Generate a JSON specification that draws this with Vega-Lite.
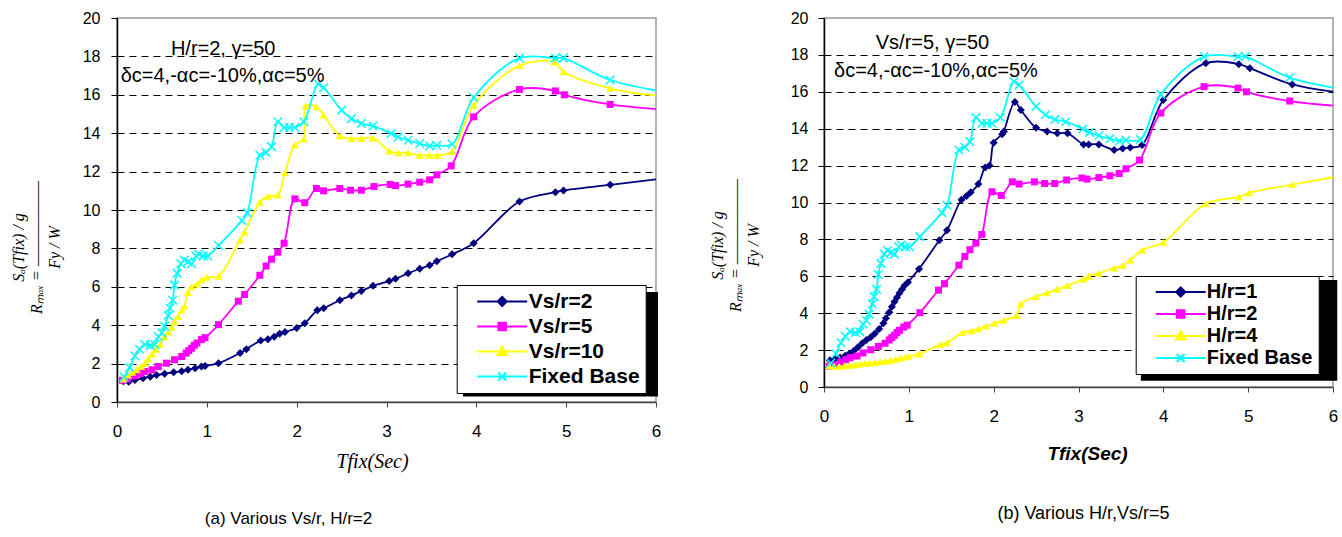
{
"$schema": "https://vega.github.io/schema/vega-lite/v6.json",
"background": "white",
"padding": {"left": 9, "top": 9, "right": 0, "bottom": 0},
"config": {
  "font": "Liberation Sans",
  "view": {"stroke": "#999999", "strokeWidth": 1.5},
  "axis": {"labelColor": "black", "titleColor": "black", "labelFont": "Liberation Sans"}
},
"datasets": {
"box": [{"item": "legend shadow"}],
"tL1": [{"note": "H/r=2, γ=50"}],
"tL2": [{"note": "δc=4,-αc=-10%,αc=5%"}],
"tR1": [{"note": "Vs/r=5, γ=50"}],
"tR2": [{"note": "δc=4,-αc=-10%,αc=5%"}],
"kL": [{"s":"Vs/r=2"},{"s":"Vs/r=5"},{"s":"Vs/r=10"},{"s":"Fixed Base"}],
"kR": [{"s":"H/r=1"},{"s":"H/r=2"},{"s":"H/r=4"},{"s":"Fixed Base"}],
"L": [
{"s":"Vs/r=2","x":0.07,"y":1.08},{"s":"Vs/r=2","x":0.13,"y":1.06},{"s":"Vs/r=2","x":0.2,"y":1.15},{"s":"Vs/r=2","x":0.29,"y":1.24},{"s":"Vs/r=2","x":0.37,"y":1.32},{"s":"Vs/r=2","x":0.44,"y":1.4},{"s":"Vs/r=2","x":0.53,"y":1.47},{"s":"Vs/r=2","x":0.63,"y":1.55},{"s":"Vs/r=2","x":0.72,"y":1.6},{"s":"Vs/r=2","x":0.79,"y":1.68},{"s":"Vs/r=2","x":0.87,"y":1.76},{"s":"Vs/r=2","x":0.94,"y":1.85},{"s":"Vs/r=2","x":0.98,"y":1.88},{"s":"Vs/r=2","x":1.13,"y":2.02},{"s":"Vs/r=2","x":1.37,"y":2.55},{"s":"Vs/r=2","x":1.44,"y":2.75},{"s":"Vs/r=2","x":1.6,"y":3.2},{"s":"Vs/r=2","x":1.68,"y":3.27},{"s":"Vs/r=2","x":1.75,"y":3.4},{"s":"Vs/r=2","x":1.81,"y":3.55},{"s":"Vs/r=2","x":1.87,"y":3.65},{"s":"Vs/r=2","x":2.0,"y":3.85},{"s":"Vs/r=2","x":2.09,"y":4.1},{"s":"Vs/r=2","x":2.23,"y":4.78},{"s":"Vs/r=2","x":2.3,"y":4.88},{"s":"Vs/r=2","x":2.48,"y":5.3},{"s":"Vs/r=2","x":2.61,"y":5.55},{"s":"Vs/r=2","x":2.72,"y":5.78},{"s":"Vs/r=2","x":2.85,"y":6.05},{"s":"Vs/r=2","x":3.03,"y":6.3},{"s":"Vs/r=2","x":3.1,"y":6.42},{"s":"Vs/r=2","x":3.24,"y":6.7},{"s":"Vs/r=2","x":3.37,"y":6.94},{"s":"Vs/r=2","x":3.48,"y":7.12},{"s":"Vs/r=2","x":3.56,"y":7.33},{"s":"Vs/r=2","x":3.73,"y":7.69},{"s":"Vs/r=2","x":3.97,"y":8.27},{"s":"Vs/r=2","x":4.48,"y":10.44},{"s":"Vs/r=2","x":4.88,"y":10.93},{"s":"Vs/r=2","x":4.97,"y":11.02},{"s":"Vs/r=2","x":5.49,"y":11.31},{"s":"Vs/r=2","x":6.1,"y":11.65},
{"s":"Vs/r=5","x":0.06,"y":1.13},{"s":"Vs/r=5","x":0.12,"y":1.2},{"s":"Vs/r=5","x":0.2,"y":1.36},{"s":"Vs/r=5","x":0.26,"y":1.48},{"s":"Vs/r=5","x":0.31,"y":1.59},{"s":"Vs/r=5","x":0.39,"y":1.68},{"s":"Vs/r=5","x":0.46,"y":1.85},{"s":"Vs/r=5","x":0.55,"y":2.02},{"s":"Vs/r=5","x":0.64,"y":2.2},{"s":"Vs/r=5","x":0.72,"y":2.37},{"s":"Vs/r=5","x":0.77,"y":2.55},{"s":"Vs/r=5","x":0.8,"y":2.68},{"s":"Vs/r=5","x":0.83,"y":2.8},{"s":"Vs/r=5","x":0.86,"y":2.95},{"s":"Vs/r=5","x":0.89,"y":3.07},{"s":"Vs/r=5","x":0.94,"y":3.25},{"s":"Vs/r=5","x":0.98,"y":3.35},{"s":"Vs/r=5","x":1.13,"y":4.03},{"s":"Vs/r=5","x":1.35,"y":5.25},{"s":"Vs/r=5","x":1.42,"y":5.6},{"s":"Vs/r=5","x":1.59,"y":6.6},{"s":"Vs/r=5","x":1.66,"y":7.08},{"s":"Vs/r=5","x":1.72,"y":7.44},{"s":"Vs/r=5","x":1.79,"y":7.8},{"s":"Vs/r=5","x":1.86,"y":8.27},{"s":"Vs/r=5","x":1.98,"y":10.58},{"s":"Vs/r=5","x":2.09,"y":10.38},{"s":"Vs/r=5","x":2.22,"y":11.12},{"s":"Vs/r=5","x":2.3,"y":11.0},{"s":"Vs/r=5","x":2.48,"y":11.12},{"s":"Vs/r=5","x":2.6,"y":11.03},{"s":"Vs/r=5","x":2.72,"y":11.03},{"s":"Vs/r=5","x":2.86,"y":11.22},{"s":"Vs/r=5","x":3.04,"y":11.33},{"s":"Vs/r=5","x":3.1,"y":11.27},{"s":"Vs/r=5","x":3.24,"y":11.35},{"s":"Vs/r=5","x":3.37,"y":11.45},{"s":"Vs/r=5","x":3.48,"y":11.57},{"s":"Vs/r=5","x":3.56,"y":11.83},{"s":"Vs/r=5","x":3.72,"y":12.3},{"s":"Vs/r=5","x":3.97,"y":14.85},{"s":"Vs/r=5","x":4.48,"y":16.28},{"s":"Vs/r=5","x":4.88,"y":16.2},{"s":"Vs/r=5","x":4.98,"y":16.0},{"s":"Vs/r=5","x":5.49,"y":15.5},{"s":"Vs/r=5","x":6.1,"y":15.22},
{"s":"Vs/r=10","x":0.07,"y":1.2},{"s":"Vs/r=10","x":0.12,"y":1.4},{"s":"Vs/r=10","x":0.17,"y":1.55},{"s":"Vs/r=10","x":0.22,"y":1.68},{"s":"Vs/r=10","x":0.27,"y":1.85},{"s":"Vs/r=10","x":0.31,"y":2.02},{"s":"Vs/r=10","x":0.35,"y":2.25},{"s":"Vs/r=10","x":0.39,"y":2.5},{"s":"Vs/r=10","x":0.43,"y":2.75},{"s":"Vs/r=10","x":0.48,"y":3.0},{"s":"Vs/r=10","x":0.53,"y":3.4},{"s":"Vs/r=10","x":0.57,"y":3.65},{"s":"Vs/r=10","x":0.61,"y":3.9},{"s":"Vs/r=10","x":0.64,"y":4.2},{"s":"Vs/r=10","x":0.68,"y":4.45},{"s":"Vs/r=10","x":0.72,"y":4.8},{"s":"Vs/r=10","x":0.75,"y":5.0},{"s":"Vs/r=10","x":0.79,"y":5.7},{"s":"Vs/r=10","x":0.83,"y":6.0},{"s":"Vs/r=10","x":0.89,"y":6.15},{"s":"Vs/r=10","x":0.94,"y":6.35},{"s":"Vs/r=10","x":1.0,"y":6.5},{"s":"Vs/r=10","x":1.13,"y":6.55},{"s":"Vs/r=10","x":1.37,"y":8.45},{"s":"Vs/r=10","x":1.42,"y":8.85},{"s":"Vs/r=10","x":1.59,"y":10.4},{"s":"Vs/r=10","x":1.68,"y":10.72},{"s":"Vs/r=10","x":1.79,"y":10.78},{"s":"Vs/r=10","x":1.87,"y":11.94},{"s":"Vs/r=10","x":1.98,"y":13.4},{"s":"Vs/r=10","x":2.08,"y":13.7},{"s":"Vs/r=10","x":2.1,"y":15.43},{"s":"Vs/r=10","x":2.22,"y":15.38},{"s":"Vs/r=10","x":2.3,"y":14.94},{"s":"Vs/r=10","x":2.48,"y":13.85},{"s":"Vs/r=10","x":2.61,"y":13.72},{"s":"Vs/r=10","x":2.72,"y":13.72},{"s":"Vs/r=10","x":2.85,"y":13.75},{"s":"Vs/r=10","x":3.03,"y":13.07},{"s":"Vs/r=10","x":3.13,"y":12.98},{"s":"Vs/r=10","x":3.24,"y":12.98},{"s":"Vs/r=10","x":3.37,"y":12.85},{"s":"Vs/r=10","x":3.48,"y":12.85},{"s":"Vs/r=10","x":3.57,"y":12.85},{"s":"Vs/r=10","x":3.73,"y":13.05},{"s":"Vs/r=10","x":3.97,"y":15.46},{"s":"Vs/r=10","x":4.48,"y":17.52},{"s":"Vs/r=10","x":4.87,"y":17.7},{"s":"Vs/r=10","x":4.97,"y":17.2},{"s":"Vs/r=10","x":5.49,"y":16.34},{"s":"Vs/r=10","x":6.1,"y":15.9},
{"s":"Fixed Base","x":0.08,"y":1.3},{"s":"Fixed Base","x":0.14,"y":1.8},{"s":"Fixed Base","x":0.2,"y":2.4},{"s":"Fixed Base","x":0.25,"y":2.75},{"s":"Fixed Base","x":0.31,"y":3.0},{"s":"Fixed Base","x":0.37,"y":2.95},{"s":"Fixed Base","x":0.42,"y":3.0},{"s":"Fixed Base","x":0.46,"y":3.4},{"s":"Fixed Base","x":0.5,"y":3.6},{"s":"Fixed Base","x":0.53,"y":3.95},{"s":"Fixed Base","x":0.57,"y":4.5},{"s":"Fixed Base","x":0.59,"y":4.9},{"s":"Fixed Base","x":0.62,"y":5.3},{"s":"Fixed Base","x":0.64,"y":6.1},{"s":"Fixed Base","x":0.67,"y":6.7},{"s":"Fixed Base","x":0.71,"y":7.2},{"s":"Fixed Base","x":0.75,"y":7.4},{"s":"Fixed Base","x":0.79,"y":7.3},{"s":"Fixed Base","x":0.83,"y":7.2},{"s":"Fixed Base","x":0.88,"y":7.6},{"s":"Fixed Base","x":0.91,"y":7.7},{"s":"Fixed Base","x":0.96,"y":7.6},{"s":"Fixed Base","x":1.01,"y":7.6},{"s":"Fixed Base","x":1.13,"y":8.15},{"s":"Fixed Base","x":1.39,"y":9.45},{"s":"Fixed Base","x":1.45,"y":9.85},{"s":"Fixed Base","x":1.59,"y":12.85},{"s":"Fixed Base","x":1.66,"y":13.0},{"s":"Fixed Base","x":1.72,"y":13.3},{"s":"Fixed Base","x":1.79,"y":14.6},{"s":"Fixed Base","x":1.86,"y":14.3},{"s":"Fixed Base","x":1.92,"y":14.3},{"s":"Fixed Base","x":1.98,"y":14.3},{"s":"Fixed Base","x":2.08,"y":14.6},{"s":"Fixed Base","x":2.24,"y":16.56},{"s":"Fixed Base","x":2.3,"y":16.37},{"s":"Fixed Base","x":2.5,"y":15.2},{"s":"Fixed Base","x":2.61,"y":14.76},{"s":"Fixed Base","x":2.72,"y":14.5},{"s":"Fixed Base","x":2.85,"y":14.38},{"s":"Fixed Base","x":3.05,"y":13.98},{"s":"Fixed Base","x":3.13,"y":13.8},{"s":"Fixed Base","x":3.24,"y":13.63},{"s":"Fixed Base","x":3.37,"y":13.46},{"s":"Fixed Base","x":3.48,"y":13.33},{"s":"Fixed Base","x":3.56,"y":13.37},{"s":"Fixed Base","x":3.73,"y":13.42},{"s":"Fixed Base","x":3.97,"y":15.86},{"s":"Fixed Base","x":4.48,"y":17.91},{"s":"Fixed Base","x":4.88,"y":17.91},{"s":"Fixed Base","x":4.97,"y":17.91},{"s":"Fixed Base","x":5.49,"y":16.77},{"s":"Fixed Base","x":6.1,"y":16.15}
],
"R": [
{"s":"H/r=1","x":0.07,"y":1.45},{"s":"H/r=1","x":0.13,"y":1.5},{"s":"H/r=1","x":0.19,"y":1.6},{"s":"H/r=1","x":0.25,"y":1.7},{"s":"H/r=1","x":0.3,"y":1.82},{"s":"H/r=1","x":0.35,"y":1.95},{"s":"H/r=1","x":0.4,"y":2.15},{"s":"H/r=1","x":0.45,"y":2.37},{"s":"H/r=1","x":0.5,"y":2.55},{"s":"H/r=1","x":0.55,"y":2.7},{"s":"H/r=1","x":0.6,"y":2.9},{"s":"H/r=1","x":0.65,"y":3.15},{"s":"H/r=1","x":0.7,"y":3.45},{"s":"H/r=1","x":0.73,"y":3.72},{"s":"H/r=1","x":0.77,"y":4.05},{"s":"H/r=1","x":0.8,"y":4.35},{"s":"H/r=1","x":0.83,"y":4.62},{"s":"H/r=1","x":0.86,"y":4.85},{"s":"H/r=1","x":0.89,"y":5.1},{"s":"H/r=1","x":0.92,"y":5.3},{"s":"H/r=1","x":0.95,"y":5.5},{"s":"H/r=1","x":0.99,"y":5.68},{"s":"H/r=1","x":1.12,"y":6.4},{"s":"H/r=1","x":1.36,"y":7.95},{"s":"H/r=1","x":1.45,"y":8.5},{"s":"H/r=1","x":1.62,"y":10.15},{"s":"H/r=1","x":1.68,"y":10.35},{"s":"H/r=1","x":1.73,"y":10.55},{"s":"H/r=1","x":1.82,"y":11.0},{"s":"H/r=1","x":1.9,"y":11.9},{"s":"H/r=1","x":1.95,"y":12.0},{"s":"H/r=1","x":2.0,"y":13.24},{"s":"H/r=1","x":2.1,"y":13.7},{"s":"H/r=1","x":2.12,"y":13.85},{"s":"H/r=1","x":2.25,"y":15.45},{"s":"H/r=1","x":2.32,"y":15.02},{"s":"H/r=1","x":2.5,"y":14.05},{"s":"H/r=1","x":2.63,"y":13.85},{"s":"H/r=1","x":2.75,"y":13.75},{"s":"H/r=1","x":2.87,"y":13.75},{"s":"H/r=1","x":3.06,"y":13.15},{"s":"H/r=1","x":3.12,"y":13.15},{"s":"H/r=1","x":3.24,"y":13.15},{"s":"H/r=1","x":3.42,"y":12.85},{"s":"H/r=1","x":3.52,"y":12.93},{"s":"H/r=1","x":3.61,"y":12.98},{"s":"H/r=1","x":3.75,"y":13.12},{"s":"H/r=1","x":4.0,"y":15.55},{"s":"H/r=1","x":4.5,"y":17.55},{"s":"H/r=1","x":4.89,"y":17.5},{"s":"H/r=1","x":5.02,"y":17.28},{"s":"H/r=1","x":5.52,"y":16.4},{"s":"H/r=1","x":6.1,"y":15.95},
{"s":"H/r=2","x":0.06,"y":1.13},{"s":"H/r=2","x":0.12,"y":1.2},{"s":"H/r=2","x":0.2,"y":1.36},{"s":"H/r=2","x":0.26,"y":1.48},{"s":"H/r=2","x":0.31,"y":1.59},{"s":"H/r=2","x":0.39,"y":1.68},{"s":"H/r=2","x":0.46,"y":1.85},{"s":"H/r=2","x":0.55,"y":2.02},{"s":"H/r=2","x":0.64,"y":2.2},{"s":"H/r=2","x":0.72,"y":2.37},{"s":"H/r=2","x":0.77,"y":2.55},{"s":"H/r=2","x":0.8,"y":2.68},{"s":"H/r=2","x":0.83,"y":2.8},{"s":"H/r=2","x":0.86,"y":2.95},{"s":"H/r=2","x":0.89,"y":3.07},{"s":"H/r=2","x":0.94,"y":3.25},{"s":"H/r=2","x":0.98,"y":3.35},{"s":"H/r=2","x":1.13,"y":4.03},{"s":"H/r=2","x":1.35,"y":5.25},{"s":"H/r=2","x":1.42,"y":5.6},{"s":"H/r=2","x":1.59,"y":6.6},{"s":"H/r=2","x":1.66,"y":7.08},{"s":"H/r=2","x":1.72,"y":7.44},{"s":"H/r=2","x":1.79,"y":7.8},{"s":"H/r=2","x":1.86,"y":8.27},{"s":"H/r=2","x":1.98,"y":10.58},{"s":"H/r=2","x":2.09,"y":10.38},{"s":"H/r=2","x":2.22,"y":11.12},{"s":"H/r=2","x":2.3,"y":11.0},{"s":"H/r=2","x":2.48,"y":11.12},{"s":"H/r=2","x":2.6,"y":11.03},{"s":"H/r=2","x":2.72,"y":11.03},{"s":"H/r=2","x":2.86,"y":11.22},{"s":"H/r=2","x":3.04,"y":11.33},{"s":"H/r=2","x":3.1,"y":11.27},{"s":"H/r=2","x":3.24,"y":11.35},{"s":"H/r=2","x":3.37,"y":11.45},{"s":"H/r=2","x":3.48,"y":11.57},{"s":"H/r=2","x":3.56,"y":11.83},{"s":"H/r=2","x":3.72,"y":12.3},{"s":"H/r=2","x":3.97,"y":14.85},{"s":"H/r=2","x":4.48,"y":16.28},{"s":"H/r=2","x":4.88,"y":16.2},{"s":"H/r=2","x":4.98,"y":16.0},{"s":"H/r=2","x":5.49,"y":15.5},{"s":"H/r=2","x":6.1,"y":15.22},
{"s":"H/r=4","x":0.06,"y":1.15},{"s":"H/r=4","x":0.12,"y":1.12},{"s":"H/r=4","x":0.18,"y":1.12},{"s":"H/r=4","x":0.24,"y":1.15},{"s":"H/r=4","x":0.3,"y":1.18},{"s":"H/r=4","x":0.36,"y":1.2},{"s":"H/r=4","x":0.42,"y":1.25},{"s":"H/r=4","x":0.48,"y":1.28},{"s":"H/r=4","x":0.54,"y":1.3},{"s":"H/r=4","x":0.6,"y":1.33},{"s":"H/r=4","x":0.66,"y":1.36},{"s":"H/r=4","x":0.72,"y":1.4},{"s":"H/r=4","x":0.78,"y":1.44},{"s":"H/r=4","x":0.84,"y":1.5},{"s":"H/r=4","x":0.9,"y":1.55},{"s":"H/r=4","x":0.96,"y":1.62},{"s":"H/r=4","x":1.0,"y":1.66},{"s":"H/r=4","x":1.12,"y":1.79},{"s":"H/r=4","x":1.37,"y":2.3},{"s":"H/r=4","x":1.45,"y":2.4},{"s":"H/r=4","x":1.63,"y":2.95},{"s":"H/r=4","x":1.74,"y":3.05},{"s":"H/r=4","x":1.82,"y":3.15},{"s":"H/r=4","x":1.91,"y":3.3},{"s":"H/r=4","x":2.01,"y":3.45},{"s":"H/r=4","x":2.12,"y":3.62},{"s":"H/r=4","x":2.27,"y":3.88},{"s":"H/r=4","x":2.32,"y":4.5},{"s":"H/r=4","x":2.5,"y":4.9},{"s":"H/r=4","x":2.63,"y":5.1},{"s":"H/r=4","x":2.75,"y":5.3},{"s":"H/r=4","x":2.87,"y":5.5},{"s":"H/r=4","x":3.06,"y":5.85},{"s":"H/r=4","x":3.12,"y":6.0},{"s":"H/r=4","x":3.24,"y":6.17},{"s":"H/r=4","x":3.42,"y":6.45},{"s":"H/r=4","x":3.52,"y":6.58},{"s":"H/r=4","x":3.61,"y":6.88},{"s":"H/r=4","x":3.75,"y":7.42},{"s":"H/r=4","x":4.0,"y":7.85},{"s":"H/r=4","x":4.5,"y":9.93},{"s":"H/r=4","x":4.89,"y":10.3},{"s":"H/r=4","x":5.01,"y":10.52},{"s":"H/r=4","x":5.52,"y":10.97},{"s":"H/r=4","x":6.1,"y":11.45},
{"s":"Fixed Base","x":0.08,"y":1.3},{"s":"Fixed Base","x":0.14,"y":1.8},{"s":"Fixed Base","x":0.2,"y":2.4},{"s":"Fixed Base","x":0.25,"y":2.75},{"s":"Fixed Base","x":0.31,"y":3.0},{"s":"Fixed Base","x":0.37,"y":2.95},{"s":"Fixed Base","x":0.42,"y":3.0},{"s":"Fixed Base","x":0.46,"y":3.4},{"s":"Fixed Base","x":0.5,"y":3.6},{"s":"Fixed Base","x":0.53,"y":3.95},{"s":"Fixed Base","x":0.57,"y":4.5},{"s":"Fixed Base","x":0.59,"y":4.9},{"s":"Fixed Base","x":0.62,"y":5.3},{"s":"Fixed Base","x":0.64,"y":6.1},{"s":"Fixed Base","x":0.67,"y":6.7},{"s":"Fixed Base","x":0.71,"y":7.2},{"s":"Fixed Base","x":0.75,"y":7.4},{"s":"Fixed Base","x":0.79,"y":7.3},{"s":"Fixed Base","x":0.83,"y":7.2},{"s":"Fixed Base","x":0.88,"y":7.6},{"s":"Fixed Base","x":0.91,"y":7.7},{"s":"Fixed Base","x":0.96,"y":7.6},{"s":"Fixed Base","x":1.01,"y":7.6},{"s":"Fixed Base","x":1.13,"y":8.15},{"s":"Fixed Base","x":1.39,"y":9.45},{"s":"Fixed Base","x":1.45,"y":9.85},{"s":"Fixed Base","x":1.59,"y":12.85},{"s":"Fixed Base","x":1.66,"y":13.0},{"s":"Fixed Base","x":1.72,"y":13.3},{"s":"Fixed Base","x":1.79,"y":14.6},{"s":"Fixed Base","x":1.86,"y":14.3},{"s":"Fixed Base","x":1.92,"y":14.3},{"s":"Fixed Base","x":1.98,"y":14.3},{"s":"Fixed Base","x":2.08,"y":14.6},{"s":"Fixed Base","x":2.24,"y":16.56},{"s":"Fixed Base","x":2.3,"y":16.37},{"s":"Fixed Base","x":2.5,"y":15.2},{"s":"Fixed Base","x":2.61,"y":14.76},{"s":"Fixed Base","x":2.72,"y":14.5},{"s":"Fixed Base","x":2.85,"y":14.38},{"s":"Fixed Base","x":3.05,"y":13.98},{"s":"Fixed Base","x":3.13,"y":13.8},{"s":"Fixed Base","x":3.24,"y":13.63},{"s":"Fixed Base","x":3.37,"y":13.46},{"s":"Fixed Base","x":3.48,"y":13.33},{"s":"Fixed Base","x":3.56,"y":13.37},{"s":"Fixed Base","x":3.73,"y":13.42},{"s":"Fixed Base","x":3.97,"y":15.86},{"s":"Fixed Base","x":4.48,"y":17.91},{"s":"Fixed Base","x":4.88,"y":17.91},{"s":"Fixed Base","x":4.97,"y":17.91},{"s":"Fixed Base","x":5.49,"y":16.77},{"s":"Fixed Base","x":6.1,"y":16.15}
]
},
"spacing": 46,
"resolve": {"scale": {"fill": "independent", "stroke": "independent", "shape": "independent"}},
"hconcat": [
{
  "width": 539, "height": 384,
  "title": {"text": "(a) Various Vs/r, H/r=2", "orient": "bottom", "frame": "group", "anchor": "middle", "offset": 40, "dx": -98, "fontSize": 17, "font": "Liberation Sans", "fontWeight": "normal", "color": "black"},
  "layer": [
    {"data": {"name": "L"}, "transform": [{"filter": "datum.s === 'Vs/r=2'"}], "mark": {"type": "line", "interpolate": "catmull-rom", "strokeWidth": 1.8, "clip": true, "color": "#000080"},
     "encoding": {
       "x": {"field": "x", "type": "quantitative", "scale": {"domain": [0, 6], "nice": false, "zero": false},
         "axis": {"values": [0,1,2,3,4,5,6], "tickCount": 7, "format": "d", "grid": false, "domainColor": "#444444", "domainWidth": 1.5, "tickColor": "#444444", "tickSize": 5, "labelFontSize": 17, "labelPadding": 16, "labelFlush": false, "labelOverlap": false, "labelColor": "black",
           "title": "Tfix(Sec)", "titleFont": "Liberation Serif", "titleFontStyle": "italic", "titleFontWeight": "normal", "titleFontSize": 20, "titleX": 255, "titleY": 59, "titleBaseline": "middle", "titleAlign": "center"}},
       "y": {"field": "y", "type": "quantitative", "scale": {"domain": [0, 20], "nice": false, "zero": false},
         "axis": {"values": [0,2,4,6,8,10,12,14,16,18,20], "tickCount": 11, "format": "d", "grid": true, "gridColor": "black", "gridDash": [7,5], "gridWidth": 1, "labelOverlap": false,
           "gridOpacity": {"condition": {"test": "datum.value === 0 || datum.value === 20", "value": 0}, "value": 1},
           "domainColor": "black", "domainWidth": 1.5, "tickColor": "black", "tickSize": 6, "labelFontSize": 16, "labelPadding": 11, "labelColor": "black",
           "title": ["\u2003\u2003\u2003Sₐ(Tfix) / g", "Rₘₐₓ = ——————", "\u2003\u2003\u2003Fy / W"],
           "titleFont": "Liberation Serif", "titleFontStyle": "italic", "titleFontWeight": "normal", "titleFontSize": 16, "titleLineHeight": 18,
           "titleX": -99, "titleY": 229, "titleAngle": -90, "titleBaseline": "middle", "titleAlign": "center"}}}},
    {"data": {"name": "L"}, "transform": [{"filter": "datum.s === 'Vs/r=5'"}], "mark": {"type": "line", "interpolate": "catmull-rom", "strokeWidth": 1.8, "clip": true, "color": "#FF00FF"},
     "encoding": {"x": {"field": "x", "type": "quantitative", "scale": {"domain": [0, 6], "nice": false, "zero": false}}, "y": {"field": "y", "type": "quantitative", "scale": {"domain": [0, 20], "nice": false, "zero": false}}}},
    {"data": {"name": "L"}, "transform": [{"filter": "datum.s === 'Vs/r=10'"}], "mark": {"type": "line", "interpolate": "catmull-rom", "strokeWidth": 1.8, "clip": true, "color": "#FFFF00"},
     "encoding": {"x": {"field": "x", "type": "quantitative", "scale": {"domain": [0, 6], "nice": false, "zero": false}}, "y": {"field": "y", "type": "quantitative", "scale": {"domain": [0, 20], "nice": false, "zero": false}}}},
    {"data": {"name": "L"}, "transform": [{"filter": "datum.s === 'Fixed Base'"}], "mark": {"type": "line", "interpolate": "catmull-rom", "strokeWidth": 1.8, "clip": true, "color": "#00FFFF"},
     "encoding": {"x": {"field": "x", "type": "quantitative", "scale": {"domain": [0, 6], "nice": false, "zero": false}}, "y": {"field": "y", "type": "quantitative", "scale": {"domain": [0, 20], "nice": false, "zero": false}}}},
    {"data": {"name": "box"}, "mark": {"type": "rect", "fill": "black", "opacity": 1},
     "encoding": {
       "x": {"datum": 3.852, "type": "quantitative", "scale": {"domain": [0, 6], "nice": false, "zero": false}},
       "x2": {"datum": 6.022},
       "y": {"datum": 5.73, "type": "quantitative", "scale": {"domain": [0, 20], "nice": false, "zero": false}},
       "y2": {"datum": 0.28}}},
    {"data": {"name": "L"}, "transform": [{"filter": "datum.s === 'Vs/r=2' && datum.x <= 6"}], "mark": {"type": "point", "shape": "diamond", "filled": true, "size": 64, "color": "#000080", "opacity": 1},
     "encoding": {"x": {"field": "x", "type": "quantitative", "scale": {"domain": [0, 6], "nice": false, "zero": false}}, "y": {"field": "y", "type": "quantitative", "scale": {"domain": [0, 20], "nice": false, "zero": false}}}},
    {"data": {"name": "L"}, "transform": [{"filter": "datum.s === 'Vs/r=5' && datum.x <= 6"}], "mark": {"type": "point", "shape": "square", "filled": true, "size": 49, "color": "#FF00FF", "opacity": 1},
     "encoding": {"x": {"field": "x", "type": "quantitative", "scale": {"domain": [0, 6], "nice": false, "zero": false}}, "y": {"field": "y", "type": "quantitative", "scale": {"domain": [0, 20], "nice": false, "zero": false}}}},
    {"data": {"name": "L"}, "transform": [{"filter": "datum.s === 'Vs/r=10' && datum.x <= 6"}], "mark": {"type": "point", "shape": "triangle-up", "filled": true, "size": 64, "color": "#FFFF00", "opacity": 1},
     "encoding": {"x": {"field": "x", "type": "quantitative", "scale": {"domain": [0, 6], "nice": false, "zero": false}}, "y": {"field": "y", "type": "quantitative", "scale": {"domain": [0, 20], "nice": false, "zero": false}}}},
    {"data": {"name": "L"}, "transform": [{"filter": "datum.s === 'Fixed Base' && datum.x <= 6"}], "mark": {"type": "point", "shape": "M-1,-1L1,1M-1,1L1,-1", "filled": false, "size": 72, "strokeWidth": 1.5, "color": "#00FFFF", "opacity": 1},
     "encoding": {"x": {"field": "x", "type": "quantitative", "scale": {"domain": [0, 6], "nice": false, "zero": false}}, "y": {"field": "y", "type": "quantitative", "scale": {"domain": [0, 20], "nice": false, "zero": false}}}},
    {"data": {"name": "kL"}, "mark": {"type": "point", "filled": true, "size": 100, "strokeWidth": 2, "opacity": 1, "clip": true},
     "encoding": {
       "x": {"datum": -1, "type": "quantitative", "scale": {"domain": [0, 6], "nice": false, "zero": false}},
       "y": {"datum": -1, "type": "quantitative", "scale": {"domain": [0, 20], "nice": false, "zero": false}},
       "fill": {"field": "s", "type": "nominal", "scale": {"domain": ["Vs/r=2","Vs/r=5","Vs/r=10","Fixed Base"], "range": ["#000080","#FF00FF","#FFFF00","#00FFFF"]},
         "legend": {"orient": "none", "legendX": 339.7, "legendY": 267, "title": null, "padding": 6, "strokeColor": "black", "fillColor": "white", "labelFont": "Liberation Sans", "labelFontWeight": "bold", "labelFontSize": 21, "labelColor": "black", "symbolSize": 100, "symbolStrokeWidth": 2, "symbolOffset": 9, "labelOffset": 36, "rowPadding": 3, "labelLimit": 300, "labelExpr": "datum.label + '\u2002'"}},
       "stroke": {"field": "s", "type": "nominal", "scale": {"domain": ["Vs/r=2","Vs/r=5","Vs/r=10","Fixed Base"], "range": ["#000080","#FF00FF","#FFFF00","#00FFFF"]},
         "legend": {"orient": "none", "legendX": 339.7, "legendY": 267, "title": null, "padding": 6, "strokeColor": "black", "fillColor": "white", "labelFont": "Liberation Sans", "labelFontWeight": "bold", "labelFontSize": 21, "labelColor": "black", "symbolSize": 100, "symbolStrokeWidth": 2, "symbolOffset": 9, "labelOffset": 36, "rowPadding": 3, "labelLimit": 300, "labelExpr": "datum.label + '\u2002'"}},
       "shape": {"field": "s", "type": "nominal", "scale": {"domain": ["Vs/r=2","Vs/r=5","Vs/r=10","Fixed Base"], "range": ["M-1,0L9,0M3.1,0L4,-0.9L4.9,0L4,0.9Z","M-1,0L9,0M3.25,-0.75L4.75,-0.75L4.75,0.75L3.25,0.75Z","M-1,0L9,0M4,-0.95L4.95,0.7L3.05,0.7Z","M-1,0L9,0M3.2,-0.8L4.8,0.8M3.2,0.8L4.8,-0.8"]},
         "legend": {"orient": "none", "legendX": 339.7, "legendY": 267, "title": null, "padding": 6, "strokeColor": "black", "fillColor": "white", "labelFont": "Liberation Sans", "labelFontWeight": "bold", "labelFontSize": 21, "labelColor": "black", "symbolSize": 100, "symbolStrokeWidth": 2, "symbolOffset": 9, "labelOffset": 36, "rowPadding": 3, "labelLimit": 300, "labelExpr": "datum.label + '\u2002'"}}
     }},
    {"data": {"name": "tL1"}, "mark": {"type": "text", "align": "left", "baseline": "alphabetic", "font": "Liberation Sans", "fontSize": 20, "color": "black"},
     "encoding": {"x": {"datum": 0.6, "type": "quantitative", "scale": {"domain": [0, 6], "nice": false, "zero": false}}, "y": {"datum": 18.07, "type": "quantitative", "scale": {"domain": [0, 20], "nice": false, "zero": false}}, "text": {"field": "note"}}},
    {"data": {"name": "tL2"}, "mark": {"type": "text", "align": "left", "baseline": "alphabetic", "font": "Liberation Sans", "fontSize": 20, "color": "black"},
     "encoding": {"x": {"datum": 0.041, "type": "quantitative", "scale": {"domain": [0, 6], "nice": false, "zero": false}}, "y": {"datum": 16.68, "type": "quantitative", "scale": {"domain": [0, 20], "nice": false, "zero": false}}, "text": {"field": "note"}}}
  ]
},
{
  "width": 509, "height": 369,
  "title": {"text": "(b) Various H/r,Vs/r=5", "orient": "bottom", "frame": "group", "anchor": "middle", "offset": 42, "dx": 5, "fontSize": 18, "font": "Liberation Sans", "fontWeight": "normal", "color": "black"},
  "layer": [
    {"data": {"name": "R"}, "transform": [{"filter": "datum.s === 'H/r=1'"}], "mark": {"type": "line", "interpolate": "catmull-rom", "strokeWidth": 1.8, "clip": true, "color": "#000080"},
     "encoding": {
       "x": {"field": "x", "type": "quantitative", "scale": {"domain": [0, 6], "nice": false, "zero": false},
         "axis": {"values": [0,1,2,3,4,5,6], "tickCount": 7, "format": "d", "grid": false, "domainColor": "#444444", "domainWidth": 1.5, "tickColor": "#444444", "tickSize": 5, "labelFontSize": 17, "labelPadding": 16, "labelFlush": false, "labelOverlap": false, "labelColor": "black",
           "title": "Tfix(Sec)", "titleFont": "Liberation Sans", "titleFontStyle": "italic", "titleFontWeight": "bold", "titleFontSize": 19, "titleX": 263, "titleY": 66, "titleBaseline": "middle", "titleAlign": "center"}},
       "y": {"field": "y", "type": "quantitative", "scale": {"domain": [0, 20], "nice": false, "zero": false},
         "axis": {"values": [0,2,4,6,8,10,12,14,16,18,20], "tickCount": 11, "format": "d", "grid": true, "gridColor": "black", "gridDash": [7,5], "gridWidth": 1, "labelOverlap": false,
           "gridOpacity": {"condition": {"test": "datum.value === 0 || datum.value === 20", "value": 0}, "value": 1},
           "domainColor": "black", "domainWidth": 1.5, "tickColor": "black", "tickSize": 6, "labelFontSize": 16, "labelPadding": 10, "labelColor": "black",
           "title": ["\u2003\u2003\u2003Sₐ(Tfix) / g", "Rₘₐₓ = ——————", "\u2003\u2003\u2003Fy / W"],
           "titleFont": "Liberation Serif", "titleFontStyle": "italic", "titleFontWeight": "normal", "titleFontSize": 16, "titleLineHeight": 18,
           "titleX": -107, "titleY": 227, "titleAngle": -90, "titleBaseline": "middle", "titleAlign": "center"}}}},
    {"data": {"name": "R"}, "transform": [{"filter": "datum.s === 'H/r=2'"}], "mark": {"type": "line", "interpolate": "catmull-rom", "strokeWidth": 1.8, "clip": true, "color": "#FF00FF"},
     "encoding": {"x": {"field": "x", "type": "quantitative", "scale": {"domain": [0, 6], "nice": false, "zero": false}}, "y": {"field": "y", "type": "quantitative", "scale": {"domain": [0, 20], "nice": false, "zero": false}}}},
    {"data": {"name": "R"}, "transform": [{"filter": "datum.s === 'H/r=4'"}], "mark": {"type": "line", "interpolate": "catmull-rom", "strokeWidth": 1.8, "clip": true, "color": "#FFFF00"},
     "encoding": {"x": {"field": "x", "type": "quantitative", "scale": {"domain": [0, 6], "nice": false, "zero": false}}, "y": {"field": "y", "type": "quantitative", "scale": {"domain": [0, 20], "nice": false, "zero": false}}}},
    {"data": {"name": "R"}, "transform": [{"filter": "datum.s === 'Fixed Base'"}], "mark": {"type": "line", "interpolate": "catmull-rom", "strokeWidth": 1.8, "clip": true, "color": "#00FFFF"},
     "encoding": {"x": {"field": "x", "type": "quantitative", "scale": {"domain": [0, 6], "nice": false, "zero": false}}, "y": {"field": "y", "type": "quantitative", "scale": {"domain": [0, 20], "nice": false, "zero": false}}}},
    {"data": {"name": "box"}, "mark": {"type": "rect", "fill": "black", "opacity": 1},
     "encoding": {
       "x": {"datum": 3.735, "type": "quantitative", "scale": {"domain": [0, 6], "nice": false, "zero": false}},
       "x2": {"datum": 6.05},
       "y": {"datum": 5.8, "type": "quantitative", "scale": {"domain": [0, 20], "nice": false, "zero": false}},
       "y2": {"datum": 0.34}}},
    {"data": {"name": "R"}, "transform": [{"filter": "datum.s === 'H/r=1' && datum.x <= 6"}], "mark": {"type": "point", "shape": "diamond", "filled": true, "size": 64, "color": "#000080", "opacity": 1},
     "encoding": {"x": {"field": "x", "type": "quantitative", "scale": {"domain": [0, 6], "nice": false, "zero": false}}, "y": {"field": "y", "type": "quantitative", "scale": {"domain": [0, 20], "nice": false, "zero": false}}}},
    {"data": {"name": "R"}, "transform": [{"filter": "datum.s === 'H/r=2' && datum.x <= 6"}], "mark": {"type": "point", "shape": "square", "filled": true, "size": 49, "color": "#FF00FF", "opacity": 1},
     "encoding": {"x": {"field": "x", "type": "quantitative", "scale": {"domain": [0, 6], "nice": false, "zero": false}}, "y": {"field": "y", "type": "quantitative", "scale": {"domain": [0, 20], "nice": false, "zero": false}}}},
    {"data": {"name": "R"}, "transform": [{"filter": "datum.s === 'H/r=4' && datum.x <= 6"}], "mark": {"type": "point", "shape": "triangle-up", "filled": true, "size": 64, "color": "#FFFF00", "opacity": 1},
     "encoding": {"x": {"field": "x", "type": "quantitative", "scale": {"domain": [0, 6], "nice": false, "zero": false}}, "y": {"field": "y", "type": "quantitative", "scale": {"domain": [0, 20], "nice": false, "zero": false}}}},
    {"data": {"name": "R"}, "transform": [{"filter": "datum.s === 'Fixed Base' && datum.x <= 6"}], "mark": {"type": "point", "shape": "M-1,-1L1,1M-1,1L1,-1", "filled": false, "size": 72, "strokeWidth": 1.5, "color": "#00FFFF", "opacity": 1},
     "encoding": {"x": {"field": "x", "type": "quantitative", "scale": {"domain": [0, 6], "nice": false, "zero": false}}, "y": {"field": "y", "type": "quantitative", "scale": {"domain": [0, 20], "nice": false, "zero": false}}}},
    {"data": {"name": "kR"}, "mark": {"type": "point", "filled": true, "size": 100, "strokeWidth": 2, "opacity": 1, "clip": true},
     "encoding": {
       "x": {"datum": -1, "type": "quantitative", "scale": {"domain": [0, 6], "nice": false, "zero": false}},
       "y": {"datum": -1, "type": "quantitative", "scale": {"domain": [0, 20], "nice": false, "zero": false}},
       "fill": {"field": "s", "type": "nominal", "scale": {"domain": ["H/r=1","H/r=2","H/r=4","Fixed Base"], "range": ["#000080","#FF00FF","#FFFF00","#00FFFF"]},
         "legend": {"orient": "none", "legendX": 311.7, "legendY": 258, "title": null, "padding": 6, "strokeColor": "black", "fillColor": "white", "labelFont": "Liberation Sans", "labelFontWeight": "bold", "labelFontSize": 20, "labelColor": "black", "symbolSize": 100, "symbolStrokeWidth": 2, "symbolOffset": 9, "labelOffset": 36, "rowPadding": 2, "labelLimit": 300, "labelExpr": "datum.label + '\u2002'"}},
       "stroke": {"field": "s", "type": "nominal", "scale": {"domain": ["H/r=1","H/r=2","H/r=4","Fixed Base"], "range": ["#000080","#FF00FF","#FFFF00","#00FFFF"]},
         "legend": {"orient": "none", "legendX": 311.7, "legendY": 258, "title": null, "padding": 6, "strokeColor": "black", "fillColor": "white", "labelFont": "Liberation Sans", "labelFontWeight": "bold", "labelFontSize": 20, "labelColor": "black", "symbolSize": 100, "symbolStrokeWidth": 2, "symbolOffset": 9, "labelOffset": 36, "rowPadding": 2, "labelLimit": 300, "labelExpr": "datum.label + '\u2002'"}},
       "shape": {"field": "s", "type": "nominal", "scale": {"domain": ["H/r=1","H/r=2","H/r=4","Fixed Base"], "range": ["M-1,0L9,0M3.1,0L4,-0.9L4.9,0L4,0.9Z","M-1,0L9,0M3.25,-0.75L4.75,-0.75L4.75,0.75L3.25,0.75Z","M-1,0L9,0M4,-0.95L4.95,0.7L3.05,0.7Z","M-1,0L9,0M3.2,-0.8L4.8,0.8M3.2,0.8L4.8,-0.8"]},
         "legend": {"orient": "none", "legendX": 311.7, "legendY": 258, "title": null, "padding": 6, "strokeColor": "black", "fillColor": "white", "labelFont": "Liberation Sans", "labelFontWeight": "bold", "labelFontSize": 20, "labelColor": "black", "symbolSize": 100, "symbolStrokeWidth": 2, "symbolOffset": 9, "labelOffset": 36, "rowPadding": 2, "labelLimit": 300, "labelExpr": "datum.label + '\u2002'"}}
     }},
    {"data": {"name": "tR1"}, "mark": {"type": "text", "align": "left", "baseline": "alphabetic", "font": "Liberation Sans", "fontSize": 20, "color": "black"},
     "encoding": {"x": {"datum": 0.61, "type": "quantitative", "scale": {"domain": [0, 6], "nice": false, "zero": false}}, "y": {"datum": 18.3, "type": "quantitative", "scale": {"domain": [0, 20], "nice": false, "zero": false}}, "text": {"field": "note"}}},
    {"data": {"name": "tR2"}, "mark": {"type": "text", "align": "left", "baseline": "alphabetic", "font": "Liberation Sans", "fontSize": 20, "color": "black"},
     "encoding": {"x": {"datum": 0.118, "type": "quantitative", "scale": {"domain": [0, 6], "nice": false, "zero": false}}, "y": {"datum": 16.82, "type": "quantitative", "scale": {"domain": [0, 20], "nice": false, "zero": false}}, "text": {"field": "note"}}}
  ]
}
]
}
